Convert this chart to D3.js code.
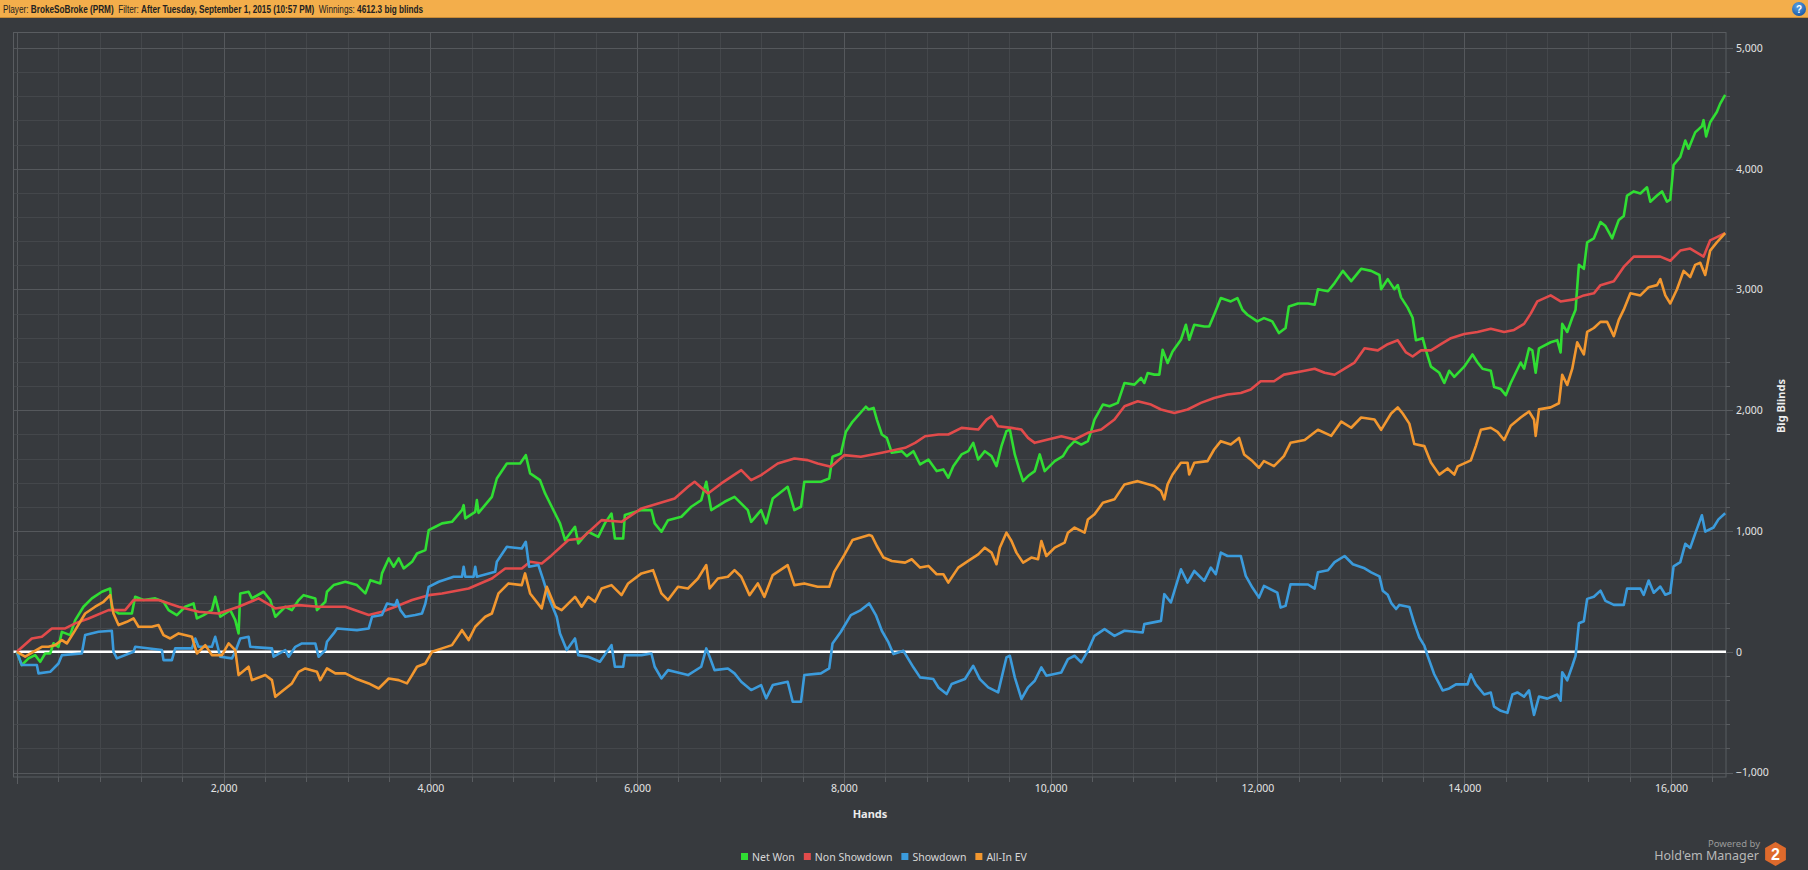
<!DOCTYPE html>
<html>
<head>
<meta charset="utf-8">
<script src="https://cdn.jsdelivr.net/npm/d3@7"></script>
<style>
  html, body { margin: 0; padding: 0; background: #373a3e; overflow: hidden; }
  svg { display: block; }
</style>
</head>
<body>
<svg id="chart" width="1808" height="870"></svg>
<script>
// Series: [hands, big blinds]
var netWon = [[0,0],[48,-110],[113,-55],[177,-28],[226,-83],[274,-14],[323,-14],[355,70],[403,41],[436,165],[516,138],[565,262],[645,373],[726,442],[823,497],[903,524],[919,360],[984,317],[1113,317],[1145,455],[1226,428],[1339,442],[1419,414],[1468,345],[1548,304],[1629,373],[1710,400],[1742,276],[1807,304],[1887,345],[1919,455],[1968,290],[2065,345],[2113,262],[2145,152],[2161,483],[2242,497],[2274,442],[2387,497],[2452,428],[2500,290],[2597,373],[2661,345],[2726,428],[2774,469],[2887,442],[2903,345],[2984,414],[3000,497],[3065,552],[3178,580],[3290,552],[3371,483],[3420,593],[3516,566],[3532,649],[3597,773],[3645,704],[3694,773],[3742,690],[3823,745],[3871,814],[3952,842],[3984,1007],[4049,1035],[4113,1063],[4209,1076],[4306,1173],[4322,1214],[4338,1104],[4434,1159],[4450,1256],[4466,1150],[4595,1283],[4643,1435],[4740,1559],[4868,1559],[4923,1628],[4965,1477],[5061,1421],[5110,1311],[5174,1201],[5254,1063],[5303,925],[5399,1035],[5431,897],[5527,994],[5624,952],[5688,1063],[5752,1145],[5785,938],[5865,938],[5881,1132],[6042,1173],[6138,1173],[6170,1063],[6235,994],[6299,1090],[6428,1118],[6524,1201],[6620,1256],[6669,1408],[6717,1173],[6846,1242],[6942,1283],[7071,1173],[7103,1076],[7199,1173],[7248,1063],[7312,1270],[7456,1366],[7521,1173],[7585,1201],[7617,1408],[7778,1408],[7858,1435],[7890,1615],[7971,1642],[8019,1822],[8083,1904],[8212,2029],[8239,2006],[8287,2019],[8319,1923],[8367,1799],[8415,1771],[8463,1648],[8560,1661],[8608,1620],[8672,1661],[8737,1551],[8817,1592],[8897,1496],[8962,1510],[9010,1441],[9058,1537],[9138,1634],[9203,1661],[9251,1730],[9299,1592],[9363,1661],[9428,1620],[9476,1537],[9524,1703],[9572,1827],[9605,1840],[9653,1634],[9701,1496],[9733,1413],[9781,1455],[9846,1496],[9894,1634],[9942,1496],[10039,1579],[10119,1620],[10167,1689],[10231,1744],[10296,1716],[10360,1744],[10392,1827],[10424,1923],[10505,2047],[10569,2033],[10649,2061],[10714,2226],[10810,2212],[10874,2267],[10906,2226],[10938,2308],[11003,2295],[11051,2295],[11083,2501],[11131,2391],[11179,2487],[11260,2584],[11308,2708],[11340,2584],[11389,2708],[11485,2694],[11533,2694],[11581,2791],[11646,2929],[11742,2901],[11806,2929],[11855,2832],[11903,2791],[11999,2736],[12063,2763],[12143,2736],[12208,2639],[12272,2681],[12304,2860],[12392,2884],[12489,2884],[12553,2874],[12585,3002],[12682,2985],[12746,3053],[12826,3154],[12907,3069],[13003,3171],[13100,3154],[13180,3120],[13196,3002],[13260,3086],[13325,3002],[13357,3036],[13389,2935],[13453,2850],[13501,2766],[13533,2580],[13598,2597],[13630,2496],[13678,2361],[13759,2310],[13807,2226],[13855,2327],[13904,2277],[14000,2361],[14080,2462],[14129,2395],[14177,2344],[14257,2327],[14289,2192],[14354,2175],[14402,2125],[14450,2226],[14546,2395],[14579,2344],[14627,2513],[14659,2496],[14691,2310],[14723,2513],[14836,2563],[14900,2580],[14932,2479],[14948,2715],[14996,2648],[15045,2766],[15077,2833],[15109,3204],[15157,3171],[15189,3390],[15254,3424],[15318,3559],[15366,3525],[15431,3424],[15495,3576],[15543,3609],[15575,3778],[15640,3812],[15704,3795],[15768,3846],[15800,3727],[15865,3778],[15913,3812],[15961,3727],[15993,3744],[16025,4031],[16090,4098],[16138,4233],[16170,4166],[16234,4301],[16299,4351],[16315,4402],[16340,4267],[16379,4385],[16443,4469],[16475,4537],[16524,4612]];

var nonShowdown = [[0,0],[145,110],[242,124],[339,193],[468,193],[565,235],[694,276],[887,345],[1048,345],[1129,428],[1371,428],[1565,373],[1758,331],[1952,317],[2145,373],[2339,442],[2500,359],[2726,386],[2919,373],[3178,373],[3404,304],[3532,331],[3661,373],[3823,428],[3984,469],[4113,483],[4370,524],[4595,607],[4724,690],[4884,690],[4965,745],[5077,731],[5174,800],[5335,925],[5463,938],[5656,1090],[5849,1076],[6042,1187],[6203,1228],[6363,1270],[6492,1366],[6556,1408],[6685,1311],[6814,1394],[7007,1504],[7103,1421],[7199,1463],[7360,1559],[7521,1601],[7649,1587],[7746,1559],[7874,1532],[8003,1628],[8164,1615],[8367,1648],[8592,1689],[8689,1730],[8785,1785],[8914,1799],[9010,1799],[9138,1854],[9299,1840],[9380,1923],[9428,1950],[9492,1868],[9621,1854],[9717,1840],[9781,1771],[9846,1730],[9974,1758],[10103,1785],[10231,1758],[10360,1813],[10489,1840],[10617,1923],[10714,2033],[10842,2074],[10971,2047],[11067,2006],[11196,1978],[11324,2006],[11453,2061],[11581,2102],[11710,2130],[11839,2143],[11935,2171],[12031,2240],[12160,2240],[12256,2295],[12457,2327],[12553,2344],[12650,2310],[12746,2294],[12843,2344],[12939,2395],[13036,2513],[13164,2496],[13260,2547],[13357,2580],[13437,2479],[13501,2445],[13582,2496],[13678,2496],[13775,2547],[13871,2597],[14000,2631],[14129,2648],[14257,2675],[14386,2648],[14482,2665],[14579,2715],[14643,2800],[14707,2901],[14836,2951],[14932,2901],[15061,2918],[15157,2951],[15254,2968],[15318,3036],[15447,3069],[15543,3187],[15640,3272],[15768,3272],[15897,3272],[15993,3238],[16090,3322],[16186,3339],[16315,3272],[16379,3407],[16524,3467]];

var showdown = [[0,0],[48,-110],[194,-110],[210,-179],[323,-166],[403,-97],[436,-28],[629,-14],[661,138],[790,166],[919,174],[935,0],[968,-55],[1129,0],[1145,41],[1403,14],[1419,-69],[1500,-69],[1532,28],[1694,28],[1726,110],[1758,41],[1887,41],[1919,124],[1968,-41],[2081,-55],[2113,0],[2161,110],[2242,124],[2258,41],[2468,28],[2484,-41],[2597,14],[2629,-41],[2694,41],[2758,69],[2887,69],[2919,-41],[2984,14],[3000,83],[3065,152],[3097,193],[3290,179],[3404,193],[3436,290],[3532,304],[3581,400],[3661,386],[3678,428],[3710,345],[3758,290],[3855,304],[3919,317],[3952,400],[3984,538],[4081,580],[4225,621],[4306,621],[4322,704],[4338,621],[4418,621],[4434,704],[4450,621],[4627,662],[4643,745],[4740,869],[4884,855],[4923,911],[4955,704],[5045,718],[5093,593],[5142,455],[5222,290],[5254,152],[5319,14],[5399,110],[5431,-28],[5527,-41],[5640,-83],[5752,55],[5785,-124],[5865,-124],[5881,-28],[6042,-28],[6138,-14],[6170,-124],[6235,-221],[6299,-152],[6363,-166],[6492,-193],[6620,-124],[6669,28],[6701,-41],[6749,-152],[6878,-138],[6942,-179],[7007,-248],[7103,-317],[7199,-276],[7248,-386],[7312,-276],[7456,-248],[7505,-414],[7585,-414],[7617,-193],[7778,-179],[7858,-138],[7890,69],[7971,166],[8067,304],[8164,345],[8244,400],[8309,304],[8367,174],[8431,77],[8479,-19],[8576,8],[8672,-129],[8737,-212],[8865,-226],[8914,-295],[8994,-350],[9042,-267],[9171,-226],[9251,-116],[9315,-226],[9396,-295],[9492,-336],[9572,-47],[9605,-33],[9653,-212],[9717,-391],[9781,-295],[9846,-240],[9910,-129],[9958,-198],[10103,-171],[10167,-61],[10231,-33],[10296,-88],[10360,8],[10424,132],[10521,187],[10617,132],[10714,174],[10890,160],[10906,229],[11067,256],[11099,477],[11163,408],[11260,683],[11324,573],[11389,669],[11485,587],[11549,697],[11597,642],[11646,821],[11710,793],[11839,793],[11887,628],[11951,532],[12015,449],[12063,545],[12192,490],[12224,366],[12272,380],[12320,559],[12489,557],[12553,523],[12585,658],[12682,675],[12746,742],[12843,793],[12923,725],[13036,691],[13100,658],[13180,624],[13212,506],[13260,472],[13293,405],[13341,354],[13373,388],[13469,371],[13517,236],[13566,118],[13614,51],[13646,-34],[13710,-186],[13791,-320],[13855,-304],[13920,-270],[14032,-270],[14064,-186],[14112,-270],[14193,-354],[14257,-337],[14289,-455],[14354,-489],[14418,-506],[14466,-354],[14514,-337],[14579,-371],[14627,-320],[14675,-523],[14723,-371],[14804,-388],[14900,-354],[14932,-405],[14948,-169],[14996,-236],[15045,-118],[15077,-34],[15109,236],[15157,253],[15189,438],[15254,455],[15318,506],[15366,422],[15447,388],[15543,388],[15575,523],[15704,523],[15736,472],[15784,590],[15833,489],[15897,540],[15945,472],[15993,489],[16025,708],[16090,742],[16138,894],[16186,860],[16234,978],[16299,1130],[16331,995],[16411,1029],[16459,1096],[16524,1147]];

var allInEV = [[0,0],[81,-41],[242,41],[306,41],[371,55],[436,97],[484,69],[565,179],[661,317],[758,373],[839,414],[903,469],[935,317],[984,221],[1065,248],[1129,276],[1177,207],[1306,207],[1371,221],[1419,138],[1484,110],[1565,152],[1694,124],[1742,-14],[1823,55],[1887,-28],[1984,-28],[2049,69],[2113,14],[2145,-193],[2242,-124],[2274,-235],[2403,-193],[2468,-235],[2500,-373],[2581,-317],[2661,-262],[2726,-166],[2790,-138],[2903,-166],[2935,-235],[3000,-138],[3081,-179],[3178,-179],[3274,-221],[3404,-262],[3500,-304],[3597,-221],[3694,-235],[3774,-262],[3823,-193],[3871,-124],[3952,-97],[4016,0],[4113,28],[4209,55],[4306,179],[4370,97],[4434,207],[4531,290],[4595,317],[4659,483],[4756,566],[4884,552],[4916,649],[4965,483],[5077,359],[5126,538],[5206,373],[5270,345],[5399,455],[5463,373],[5527,455],[5592,414],[5656,524],[5752,552],[5849,469],[5913,566],[6042,649],[6154,676],[6235,483],[6299,428],[6395,538],[6492,524],[6588,607],[6669,718],[6701,524],[6781,607],[6878,621],[6942,676],[7007,621],[7087,469],[7167,566],[7231,455],[7312,635],[7456,718],[7521,552],[7617,566],[7746,538],[7858,538],[7906,662],[8003,800],[8083,925],[8244,966],[8271,959],[8319,876],[8383,780],[8463,752],[8592,738],[8656,766],[8737,697],[8817,711],[8897,642],[8962,642],[9010,573],[9106,697],[9203,752],[9299,807],[9363,862],[9428,821],[9476,725],[9508,862],[9572,986],[9621,917],[9669,821],[9733,738],[9813,780],[9878,766],[9910,917],[9958,793],[10039,862],[10135,904],[10167,986],[10231,1028],[10328,986],[10360,1096],[10424,1138],[10505,1234],[10617,1262],[10714,1386],[10842,1413],[11003,1372],[11067,1331],[11099,1262],[11131,1386],[11179,1468],[11260,1565],[11324,1565],[11340,1468],[11389,1565],[11517,1579],[11581,1675],[11646,1744],[11742,1716],[11822,1771],[11871,1634],[11951,1579],[12015,1524],[12063,1579],[12160,1537],[12256,1620],[12320,1730],[12457,1754],[12585,1838],[12714,1788],[12811,1906],[12907,1855],[13003,1940],[13132,1923],[13196,1838],[13293,1973],[13357,2024],[13405,1973],[13469,1889],[13517,1720],[13614,1703],[13678,1568],[13759,1467],[13839,1518],[13904,1467],[13936,1535],[14064,1585],[14112,1703],[14161,1838],[14257,1855],[14322,1821],[14386,1754],[14450,1872],[14546,1940],[14627,1990],[14675,1923],[14691,1788],[14723,2007],[14836,2024],[14916,2058],[14948,2294],[14996,2209],[15045,2344],[15093,2563],[15125,2513],[15157,2462],[15189,2648],[15254,2681],[15318,2732],[15382,2732],[15447,2614],[15495,2748],[15543,2833],[15607,2968],[15704,2951],[15784,3019],[15865,3036],[15897,3086],[15945,2951],[15993,2884],[16058,3002],[16122,3154],[16186,3103],[16234,3204],[16283,3221],[16331,3120],[16379,3322],[16443,3390],[16524,3467]];

var seriesNames = ["Net Won", "Non Showdown", "Showdown", "All-In EV"];
var seriesColors = ["#30de33", "#e24b4b", "#3b9bdc", "#f2972f"];
var xTickValues = [2000, 4000, 6000, 8000, 10000, 12000, 14000, 16000];
var yTickValues = [-1000, 0, 1000, 2000, 3000, 4000, 5000];

var svg = d3.select("#chart");
var W = 1808, H = 870;
var plotL = 13.5, plotR = 1726, plotT = 32.5, plotB = 777;

svg.append("rect").attr("width", W).attr("height", H).attr("fill", "#373a3e");

// header bar
svg.append("rect").attr("width", W).attr("height", 18).attr("fill", "#f3ae4b");
svg.append("rect").attr("y", 17).attr("width", W).attr("height", 1).attr("fill", "#c98b35");
var headG = svg.append("g");
var head = headG.append("text").attr("x", 0).attr("y", 13)
    .attr("font-family", "'Liberation Sans', sans-serif")
    .attr("font-size", 11).attr("fill", "#222");
var headParts = [["Player: ", false], ["BrokeSoBroke (PRM)", true], ["  Filter: ", false],
    ["After Tuesday, September 1, 2015 (10:57 PM)", true], ["  Winnings: ", false], ["4612.3 big blinds", true]];
headParts.forEach(function (p) {
    head.append("tspan").attr("font-weight", p[1] ? "bold" : "normal")
        .style("white-space", "pre").text(p[0]);
});
// squeeze to the narrow width of the original header font
var headW = head.node().getComputedTextLength();
headG.attr("transform", "translate(3,0) scale(" + (421 / headW) + ",1)");

// help icon
var grad = svg.append("defs").append("radialGradient").attr("id", "helpg")
    .attr("cx", "40%").attr("cy", "30%").attr("r", "70%");
grad.append("stop").attr("offset", "0%").attr("stop-color", "#5aa2e6");
grad.append("stop").attr("offset", "100%").attr("stop-color", "#1c5ca8");
svg.append("circle").attr("cx", 1799).attr("cy", 9).attr("r", 7).attr("fill", "url(#helpg)");
svg.append("text").attr("x", 1799).attr("y", 12.5).attr("text-anchor", "middle")
    .attr("font-family", "'Liberation Sans', sans-serif").attr("font-weight", "bold")
    .attr("font-size", 10).attr("fill", "#fff").text("?");

var x = d3.scaleLinear().domain([-32, 16532]).range([plotL, plotR]);
var y = d3.scaleLinear().domain([-1037, 5128]).range([plotB, plotT]);

// grid
var xMinor = d3.range(0, 16532, 400);
var yMinor = d3.range(-1000, 5001, 200);
var grid = svg.append("g");
grid.selectAll(".vx").data(xMinor).enter().append("line")
    .attr("x1", function (d) { return Math.round(x(d)) + 0.5; })
    .attr("x2", function (d) { return Math.round(x(d)) + 0.5; })
    .attr("y1", plotT).attr("y2", plotB)
    .attr("stroke", function (d) { return d % 2000 === 0 ? "#55585c" : "#44474b"; })
    .attr("stroke-width", 1);
grid.selectAll(".hy").data(yMinor).enter().append("line")
    .attr("y1", function (d) { return Math.round(y(d)) + 0.5; })
    .attr("y2", function (d) { return Math.round(y(d)) + 0.5; })
    .attr("x1", plotL).attr("x2", plotR)
    .attr("stroke", function (d) { return d % 1000 === 0 ? "#55585c" : "#44474b"; })
    .attr("stroke-width", 1);
svg.append("rect").attr("x", plotL).attr("y", plotT).attr("width", plotR - plotL)
    .attr("height", plotB - plotT).attr("fill", "none").attr("stroke", "#595c60");

// axis tick marks
grid.selectAll(".tx").data(xMinor).enter().append("line")
    .attr("x1", function (d) { return Math.round(x(d)) + 0.5; })
    .attr("x2", function (d) { return Math.round(x(d)) + 0.5; })
    .attr("y1", plotB).attr("y2", function (d) { return plotB + (d % 2000 === 0 ? 7 : 5); })
    .attr("stroke", "#595c60");
grid.selectAll(".ty").data(yMinor).enter().append("line")
    .attr("y1", function (d) { return Math.round(y(d)) + 0.5; })
    .attr("y2", function (d) { return Math.round(y(d)) + 0.5; })
    .attr("x1", plotR).attr("x2", function (d) { return plotR + (d % 1000 === 0 ? 7 : 4); })
    .attr("stroke", "#595c60");

// axis labels via d3 axes (text only)
var fmt = d3.format(",");
var xAxis = svg.append("g").attr("transform", "translate(0," + plotB + ")")
    .call(d3.axisBottom(x).tickValues(xTickValues).tickFormat(fmt).tickSize(0).tickPadding(8));
var yAxis = svg.append("g").attr("transform", "translate(" + plotR + ",0)")
    .call(d3.axisRight(y).tickValues(yTickValues).tickFormat(fmt).tickSize(0).tickPadding(10));
[xAxis, yAxis].forEach(function (a) {
    a.select(".domain").remove();
    a.selectAll("text").attr("font-family", "'Noto Sans', sans-serif")
        .attr("font-size", 10.5).attr("fill", "#e4e4e4");
});

svg.append("text").attr("x", 870).attr("y", 818).attr("text-anchor", "middle")
    .attr("font-family", "'Noto Sans', sans-serif").attr("font-weight", "bold")
    .attr("font-size", 11).attr("fill", "#ececec").text("Hands");
svg.append("text").attr("transform", "translate(1785,406) rotate(-90)").attr("text-anchor", "middle")
    .attr("font-family", "'Noto Sans', sans-serif").attr("font-weight", "bold")
    .attr("font-size", 11).attr("fill", "#ececec").text("Big Blinds");

// zero line
svg.append("line").attr("x1", plotL).attr("x2", plotR)
    .attr("y1", y(0)).attr("y2", y(0)).attr("stroke", "#ffffff").attr("stroke-width", 2.5);

// series
var line = d3.line().x(function (d) { return x(d[0]); }).y(function (d) { return y(d[1]); });
var allSeries = [netWon, nonShowdown, showdown, allInEV];
svg.append("g").selectAll("path").data(allSeries).enter().append("path")
    .attr("d", line).attr("fill", "none")
    .attr("stroke", function (d, i) { return seriesColors[i]; })
    .attr("stroke-width", 2.6).attr("stroke-linejoin", "round");

// legend
var legend = svg.append("g").attr("font-family", "'Noto Sans', sans-serif")
    .attr("font-size", 10.5).attr("fill", "#d8d8d8");
var lx = 741;
seriesNames.forEach(function (n, i) {
    legend.append("rect").attr("x", lx).attr("y", 853).attr("width", 7).attr("height", 7)
        .attr("fill", seriesColors[i]);
    var t = legend.append("text").attr("x", lx + 11).attr("y", 860.5).text(n);
    lx += 11 + t.node().getComputedTextLength() + 9;
});

// logo
svg.append("text").attr("x", 1760).attr("y", 847).attr("text-anchor", "end")
    .attr("font-family", "'Noto Sans', sans-serif").attr("font-size", 9.5)
    .attr("fill", "#9a9a9a").text("Powered by");
svg.append("text").attr("x", 1759).attr("y", 860).attr("text-anchor", "end")
    .attr("font-family", "'Noto Sans', sans-serif").attr("font-size", 12.5)
    .attr("fill", "#b8b8b8").text("Hold'em Manager");
var hex = d3.range(6).map(function (k) {
    var a = Math.PI / 3 * k - Math.PI / 2;
    return [1775.5 + 12 * Math.cos(a), 854 + 12 * Math.sin(a)];
});
svg.append("polygon").attr("points", hex.map(function (p) { return p.join(","); }).join(" "))
    .attr("fill", "#de6a2c");
svg.append("text").attr("x", 1775.5).attr("y", 860).attr("text-anchor", "middle")
    .attr("font-family", "'Liberation Sans', sans-serif").attr("font-weight", "bold")
    .attr("font-size", 16).attr("fill", "#fff").text("2");
</script>
</body>
</html>
